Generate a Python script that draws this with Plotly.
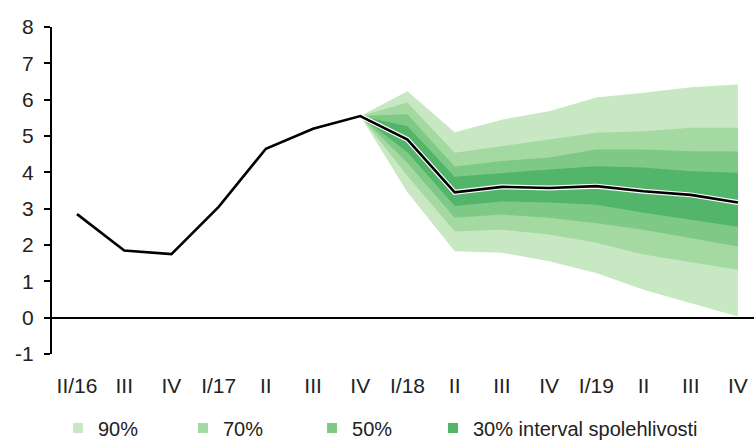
import plotly.graph_objects as go

# Quarters on the horizontal axis
quarters = ["II/16", "III", "IV", "I/17", "II", "III", "IV", "I/18",
            "II", "III", "IV", "I/19", "II", "III", "IV"]

# Vertical axis ticks
y_ticks = [-1, 0, 1, 2, 3, 4, 5, 6, 7, 8]
y_tick_labels = ["-1", "0", "1", "2", "3", "4", "5", "6", "7", "8"]

# Observed values and central forecast (%)
central = [2.85, 1.85, 1.75, 3.05, 4.65, 5.2, 5.55, 4.9,
           3.45, 3.6, 3.57, 3.62, 3.48, 3.38, 3.17]

# Fan starts at IV/17 (index 6)
fan_start = 6

# Confidence band edges from IV/17 to IV/19
lower90 = [5.55, 3.45, 1.83, 1.79, 1.55, 1.23, 0.77, 0.41, 0.03]
lower70 = [5.55, 3.90, 2.37, 2.42, 2.29, 2.06, 1.74, 1.52, 1.32]
lower50 = [5.55, 4.26, 2.75, 2.84, 2.75, 2.60, 2.42, 2.20, 1.96]
lower30 = [5.55, 4.55, 3.07, 3.20, 3.17, 3.11, 2.89, 2.70, 2.50]
upper30 = [5.55, 5.27, 3.88, 3.99, 4.08, 4.17, 4.13, 4.03, 3.99]
upper50 = [5.55, 5.60, 4.16, 4.31, 4.41, 4.63, 4.63, 4.58, 4.57]
upper70 = [5.55, 5.92, 4.54, 4.72, 4.90, 5.09, 5.13, 5.23, 5.23]
upper90 = [5.55, 6.23, 5.10, 5.45, 5.68, 6.06, 6.19, 6.34, 6.42]

band_names = ["90%", "70%", "50%", "30% interval spolehlivosti"]
band_colors = ["#c8e8c3", "#a5d9a2", "#7fc986", "#52b56a"]

x_all = list(range(len(quarters)))
x_fan = x_all[fan_start:]

fig = go.Figure()

bands = [(lower90, upper90), (lower70, upper70),
         (lower50, upper50), (lower30, upper30)]
for (lo, hi), color in zip(bands, band_colors):
    fig.add_trace(go.Scatter(x=x_fan, y=lo, mode="lines",
                             line=dict(width=0, color=color),
                             showlegend=False, hoverinfo="skip"))
    fig.add_trace(go.Scatter(x=x_fan, y=hi, mode="lines", fill="tonexty",
                             fillcolor=color, line=dict(width=0, color=color),
                             showlegend=False, hoverinfo="skip"))

# White halo around the forecast path
fig.add_trace(go.Scatter(x=x_fan, y=central[fan_start:], mode="lines",
                         line=dict(color="white", width=5),
                         showlegend=False, hoverinfo="skip"))
fig.add_trace(go.Scatter(x=x_all, y=central, mode="lines",
                         line=dict(color="black", width=2.6),
                         showlegend=False))

font_family = "Liberation Sans, Arial, sans-serif"
text_color = "#222222"

# One legend per band so the entries sit at fixed spacing
legend_ids = ["legend", "legend2", "legend3", "legend4"]
legend_x = [0.0085, 0.1866, 0.3704, 0.5427]
legend_layout = {}
for name, color, lid, lx in zip(band_names, band_colors, legend_ids, legend_x):
    fig.add_trace(go.Scatter(x=[None], y=[None], mode="markers", name=name,
                             legend=lid,
                             marker=dict(symbol="square", size=10, color=color)))
    legend_layout[lid] = dict(orientation="h", x=lx, xanchor="left",
                              y=-0.226, yanchor="middle",
                              font=dict(size=20, color=text_color),
                              bgcolor="rgba(0,0,0,0)")

fig.update_layout(
    width=754, height=441,
    margin=dict(l=52, r=0, t=27, b=87, autoexpand=False),
    paper_bgcolor="white", plot_bgcolor="white",
    font=dict(family=font_family, size=21, color=text_color),
    showlegend=True,
    xaxis=dict(range=[-0.53, 14.34], tickmode="array", tickvals=x_all,
               ticktext=quarters, showgrid=False, zeroline=False,
               showline=False, ticks="", ticklabelstandoff=17,
               tickfont=dict(size=21), fixedrange=True, automargin=False),
    yaxis=dict(range=[-1, 8], tickmode="array", tickvals=y_ticks,
               ticktext=y_tick_labels, showgrid=False, zeroline=True,
               zerolinecolor="black", zerolinewidth=2, showline=True,
               linecolor="black", linewidth=2, ticks="outside", ticklen=6,
               tickwidth=2, tickcolor="black", tickfont=dict(size=21),
               ticklabelstandoff=6, fixedrange=True, automargin=False),
    **legend_layout,
)

fig.write_html("out.html")
